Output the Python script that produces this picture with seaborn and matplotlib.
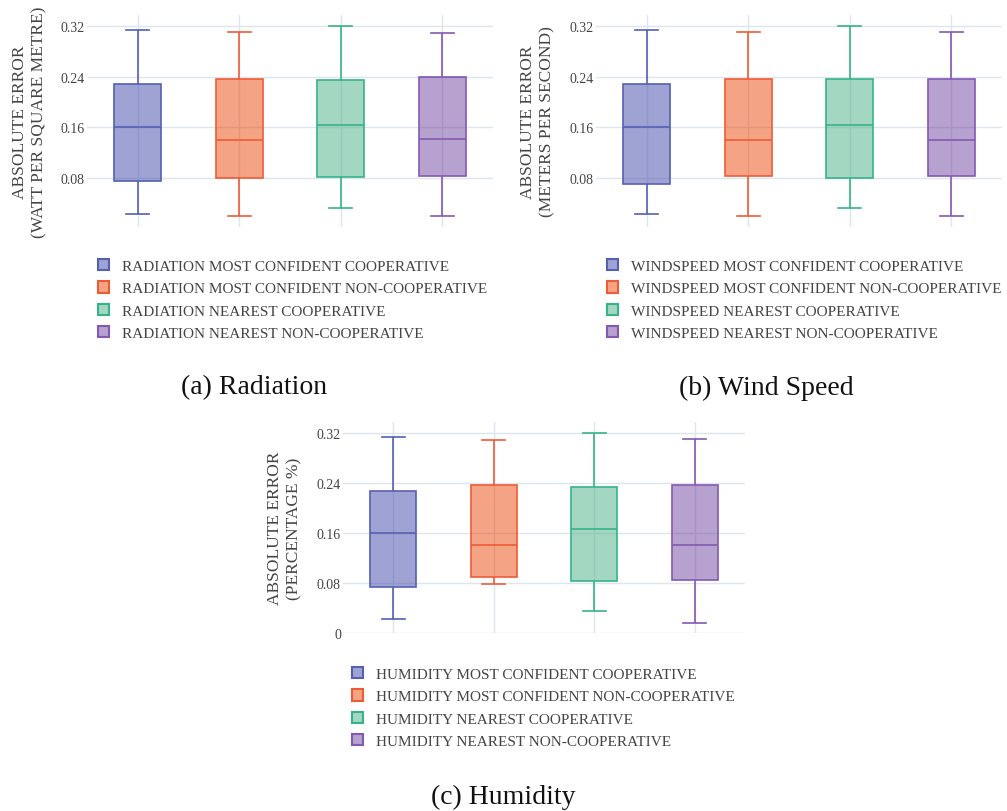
import matplotlib
matplotlib.use("Agg")
import matplotlib.pyplot as plt
from matplotlib.patches import Patch
import pandas as pd
import seaborn as sns

# five-number summaries: low whisker, Q1, median, Q3, high whisker
METHODS = [
    "MOST CONFIDENT COOPERATIVE",
    "MOST CONFIDENT NON-COOPERATIVE",
    "NEAREST COOPERATIVE",
    "NEAREST NON-COOPERATIVE",
]

RADIATION = [
    [0.0245, 0.0764, 0.1600, 0.2278, 0.3132],
    [0.0209, 0.0800, 0.1408, 0.2357, 0.3095],
    [0.0339, 0.0821, 0.1639, 0.2346, 0.3200],
    [0.0209, 0.0837, 0.1419, 0.2388, 0.3080],
]
WINDSPEED = [
    [0.0245, 0.0717, 0.1600, 0.2278, 0.3132],
    [0.0209, 0.0837, 0.1408, 0.2357, 0.3095],
    [0.0339, 0.0800, 0.1644, 0.2357, 0.3200],
    [0.0209, 0.0832, 0.1408, 0.2357, 0.3095],
]
HUMIDITY = [
    [0.0229, 0.0736, 0.1600, 0.2272, 0.3136],
    [0.0779, 0.0891, 0.1403, 0.2373, 0.3093],
    [0.0347, 0.0832, 0.1659, 0.2336, 0.3200],
    [0.0165, 0.0848, 0.1413, 0.2363, 0.3104],
]

EDGE_COLORS = ["#5560b5", "#ee5b37", "#35b38a", "#8459b3"]
# semi-transparent fills, so the grid shows through the boxes
FILL_COLORS = [
    (65 / 255, 73 / 255, 169 / 255, 0.5),
    (235 / 255, 73 / 255, 10 / 255, 0.5),
    (75 / 255, 177 / 255, 135 / 255, 0.5),
    (113 / 255, 69 / 255, 159 / 255, 0.5),
]
GRID = "#dde5ee"
TEXT = "#444444"

PANELS = [
    # data, prefix, y label, caption, axes rect, ylim, yticks
    (RADIATION, "RADIATION", "ABSOLUTE ERROR\n(WATT PER SQUARE METRE)", "(a) Radiation",
     [87 / 1007, 1 - 228 / 812, 406 / 1007, 212 / 812], (0.0034, 0.3368),
     [0.08, 0.16, 0.24, 0.32]),
    (WINDSPEED, "WINDSPEED", "ABSOLUTE ERROR\n(METERS PER SECOND)", "(b) Wind Speed",
     [596 / 1007, 1 - 228 / 812, 406 / 1007, 212 / 812], (0.0034, 0.3368),
     [0.08, 0.16, 0.24, 0.32]),
    (HUMIDITY, "HUMIDITY", "ABSOLUTE ERROR\n(PERCENTAGE %)", "(c) Humidity",
     [343 / 1007, 1 - 634 / 812, 402 / 1007, 211 / 812], (0.0, 0.338),
     [0, 0.08, 0.16, 0.24, 0.32]),
]
LEGEND_POS = [(98 / 1007, 1 - 260 / 812), (607 / 1007, 1 - 260 / 812), (352 / 1007, 1 - 668 / 812)]
CAPTION_POS = [(254 / 1007, 1 - 388 / 812), (766 / 1007, 1 - 388 / 812), (503 / 1007, 1 - 797 / 812)]
YLABEL_X = [-0.141, -0.143, -0.145]

plt.rcParams.update({
    "font.family": ["Liberation Serif", "DejaVu Serif"],
    "font.size": 10,
})

fig = plt.figure(figsize=(10.07, 8.12), dpi=100)

for i, (stats, prefix, ylabel, caption, rect, ylim, yticks) in enumerate(PANELS):
    ax = fig.add_axes(rect)
    labels = [f"{prefix} {m}" for m in METHODS]
    frame = pd.DataFrame(
        [(lab, v) for lab, vals in zip(labels, stats) for v in vals],
        columns=["method", "error"],
    )
    for lab, edge, fill in zip(labels, EDGE_COLORS, FILL_COLORS):
        n_before = len(ax.patches)
        sns.boxplot(
            data=frame[frame["method"] == lab], x="method", y="error",
            order=labels, color=edge, linecolor=edge, linewidth=1.2,
            width=0.46, whis=(0, 100), saturation=1, ax=ax,
        )
        for patch in ax.patches[n_before:]:
            patch.set_facecolor(fill)
            patch.set_edgecolor(edge)

    ax.set_xlim(-0.5, 3.5)
    ax.set_ylim(*ylim)
    ax.set_yticks(yticks)
    ax.set_yticklabels(["0" if t == 0 else f"{t:.2f}" for t in yticks])
    ax.set_xticks(range(4))
    ax.set_xticklabels([])
    ax.tick_params(length=0, labelcolor=TEXT, labelsize=10, pad=1.5)
    ax.grid(True, color=GRID, linewidth=1)
    ax.set_axisbelow(True)
    for spine in ax.spines.values():
        spine.set_visible(False)
    ax.set_xlabel("")
    ax.set_ylabel(ylabel, fontsize=12.5, color=TEXT, linespacing=1.25)
    ax.yaxis.label.set_verticalalignment("center")
    ax.yaxis.set_label_coords(YLABEL_X[i], 0.5)

    handles = [
        Patch(facecolor=fill, edgecolor=edge, linewidth=1.5)
        for edge, fill in zip(EDGE_COLORS, FILL_COLORS)
    ]
    fig.legend(
        handles, labels, loc="upper left", bbox_to_anchor=LEGEND_POS[i],
        bbox_transform=fig.transFigure, frameon=False, fontsize=11,
        labelcolor=TEXT, handlelength=0.75, handleheight=0.75,
        handletextpad=0.8, labelspacing=0.55, borderpad=0, borderaxespad=0,
    )
    fig.text(*CAPTION_POS[i], caption, ha="center", va="center",
             fontsize=20, color="#111111")

fig.savefig("out.png", dpi=100)
